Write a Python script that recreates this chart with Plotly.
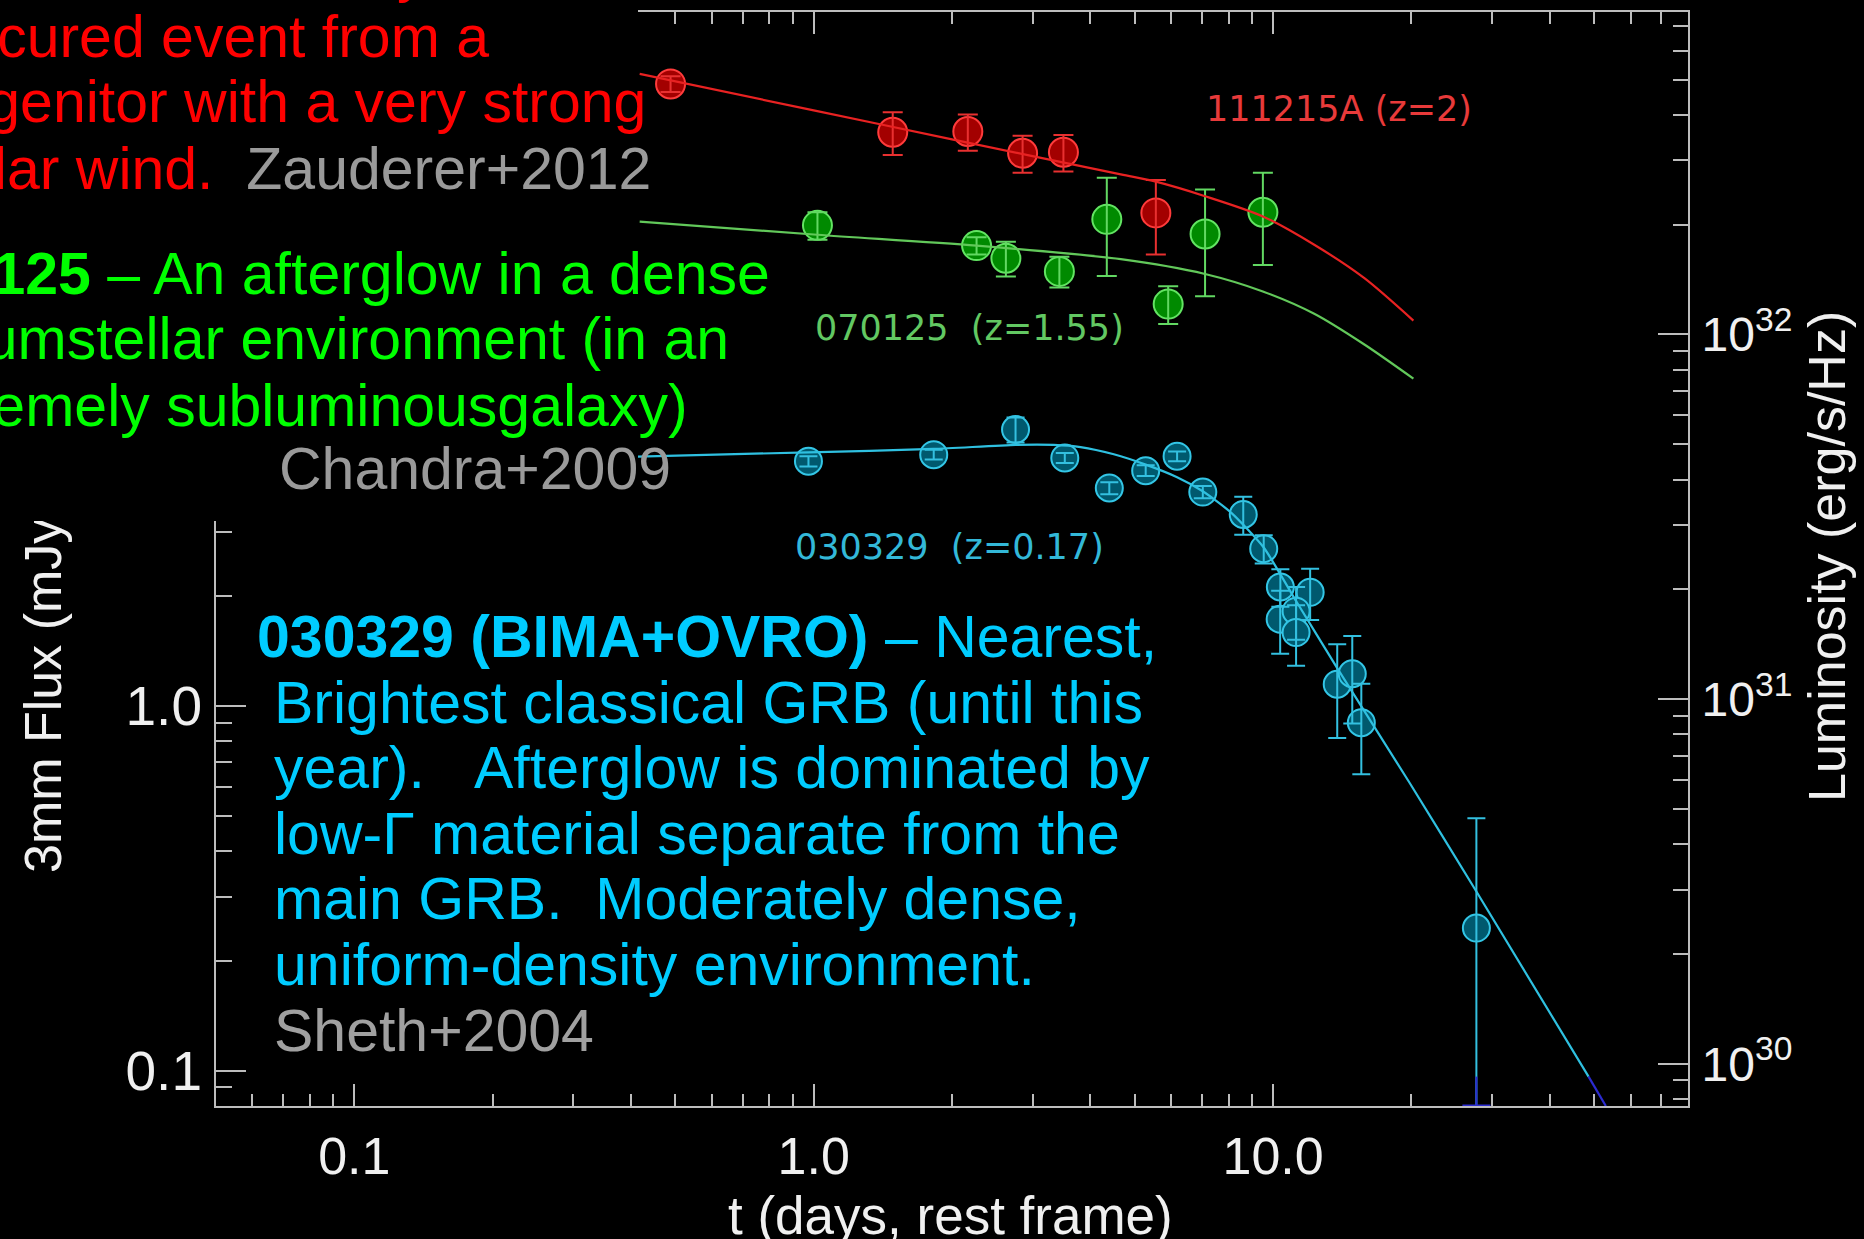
import math
import plotly.graph_objects as go

# ------------------------------------------------------------------ data
# GRB 111215A (z=2)  -- rest-frame days, 3mm flux (mJy)
red_t = [0.488, 1.486, 2.165, 2.849, 3.496, 5.556]
red_flux = [50.8, 37.45, 37.6, 32.8, 33.0, 22.5]
red_err = [2.5, 5.0, 4.3, 3.8, 3.8, 5.2]
red_fit_t = [0.418, 1.0, 2.0, 4.66, 5.556, 7.11, 9.5, 12.29, 15.8, 20.2]
red_fit_flux = [54.1, 43.0, 35.8, 28.7, 27.4, 25.0, 22.0, 18.4, 14.9, 11.4]

# GRB 070125 (z=1.55)
green_t = [1.019, 2.262, 2.62, 3.426, 4.345, 5.91, 7.11, 9.5]
green_flux = [20.8, 18.3, 16.9, 15.55, 21.6, 12.65, 19.7, 22.6]
green_err = [1.8, 1.0, 1.85, 1.5, 6.5, 1.5, 6.4, 6.4]
green_fit_t = [0.418, 1.018, 2.262, 4.66, 7.11, 9.5, 12.29, 15.8, 20.2]
green_fit_flux = [21.3, 19.6, 18.3, 16.8, 15.3, 13.7, 11.9, 9.8, 7.9]

# GRB 030329 (z=0.17)
cyan_t = [0.974, 1.825, 2.75, 3.52, 4.40, 5.28, 6.18, 7.03, 8.61, 9.54,
          10.37, 12.04, 10.36, 11.22, 11.22, 13.79, 14.87, 15.56, 27.7]
cyan_flux = [4.69, 4.89, 5.73, 4.79, 3.96, 4.42, 4.84, 3.86, 3.35, 2.70,
             2.12, 2.05, 1.73, 1.82, 1.59, 1.147, 1.226, 0.90, 0.246]
cyan_err = [0.15, 0.15, 0.45, 0.15, 0.15, 0.15, 0.15, 0.15, 0.40, 0.24,
            0.25, 0.33, 0.34, 0.30, 0.30, 0.33, 0.33, 0.25, 0.246]
cyan_fit_t = [0.414, 0.973, 1.823, 2.75, 3.33, 3.81, 4.5, 5.28, 6.18, 7.03, 8.1,
              9.54, 11.22, 13.79, 19.83, 27.7, 48.6]
cyan_fit_flux = [4.83, 4.96, 5.07, 5.2, 5.2, 5.13, 4.9, 4.59, 4.24, 3.88, 3.39,
                 2.72, 1.94, 1.27, 0.615, 0.31, 0.0963]
cyan_fit_faint_t = [48.6, 53.0]
cyan_fit_faint_flux = [0.0963, 0.080]
FAINT_LIMIT = 0.0963

# axes
t_range = [0.05, 80]
flux_range = [0.08, 80]
LUM_OFFSET_DEX = 30.981          # log10(erg/s/Hz per mJy) of the twin axis
x_major = [0.1, 1.0, 10.0]
x_major_text = ["0.1", "1.0", "10.0"]
y_major = [0.1, 1.0, 10.0]
y_major_text = ["0.1", "1.0", "10.0"]
lum_major = [1e30, 1e31, 1e32]
lum_major_text = ["10<sup>30</sup>", "10<sup>31</sup>", "10<sup>32</sup>"]


def minors(lo, hi):
    out = []
    for e in range(int(math.floor(math.log10(lo))) - 1, int(math.ceil(math.log10(hi))) + 1):
        for m in range(2, 10):
            v = float(m) * 10.0 ** e
            if lo < v < hi:
                out.append(v)
    return out


lum_lo = 10.0 ** (math.log10(flux_range[0]) + LUM_OFFSET_DEX)
lum_hi = 10.0 ** (math.log10(flux_range[1]) + LUM_OFFSET_DEX)

# ------------------------------------------------------------------ layout geometry
W, H = 1864, 1239
ML, MR, MT, MB = 216, 176, 12, 133
PW, PH = W - ML - MR, H - MT - MB


def px(x):
    return (x - ML) / PW


def py(y):
    return (H - MB - y) / PH


AX = "#bdbdbd"
LBL = "#f0f0f0"
SANS = "Liberation Sans, Arial, Helvetica, sans-serif"

fig = go.Figure()


def add_series(t, f, err, fill, edge, ecol, size, cap):
    fig.add_trace(go.Scatter(
        x=t, y=f, mode="markers",
        marker=dict(symbol="circle", size=size, color=fill,
                    line=dict(color=edge, width=2)),
        showlegend=False, hoverinfo="skip"))
    fig.add_trace(go.Scatter(
        x=t, y=f, mode="markers",
        marker=dict(size=2, opacity=0),
        error_y=dict(type="data", array=err, visible=True, color=ecol,
                     thickness=2, width=cap),
        showlegend=False, hoverinfo="skip"))


add_series(red_t, red_flux, red_err, "#a30000", "#ff3b3b", "#e83030", 29, 10)
add_series(green_t, green_flux, green_err, "#008a00", "#62e462", "#62d862", 29, 10)
add_series(cyan_t, cyan_flux, cyan_err, "#00596e", "#33c6e6", "#33c0e0", 27, 9)

# faint (below limit) portion of the last 030329 error bar
fig.add_trace(go.Scatter(
    x=[cyan_t[-1], cyan_t[-1]], y=[FAINT_LIMIT, flux_range[0]],
    mode="lines", line=dict(color="#2b2bd0", width=2),
    showlegend=False, hoverinfo="skip"))
fig.add_trace(go.Scatter(
    x=[cyan_t[-1]], y=[flux_range[0]], mode="markers", cliponaxis=False,
    marker=dict(symbol="line-ew", size=20, line=dict(color="#2b2bd0", width=3)),
    showlegend=False, hoverinfo="skip"))

# model curves
fig.add_trace(go.Scatter(x=red_fit_t, y=red_fit_flux, mode="lines",
                         line=dict(color="#e82222", width=2.2, shape="spline", smoothing=0.8),
                         showlegend=False, hoverinfo="skip"))
fig.add_trace(go.Scatter(x=green_fit_t, y=green_fit_flux, mode="lines",
                         line=dict(color="#62c85a", width=2.2, shape="spline", smoothing=0.8),
                         showlegend=False, hoverinfo="skip"))
fig.add_trace(go.Scatter(x=cyan_fit_t, y=cyan_fit_flux, mode="lines",
                         line=dict(color="#2fc0e0", width=2.2, shape="spline", smoothing=0.6),
                         showlegend=False, hoverinfo="skip"))
fig.add_trace(go.Scatter(x=cyan_fit_faint_t, y=cyan_fit_faint_flux, mode="lines",
                         line=dict(color="#2b2bd0", width=2.2),
                         showlegend=False, hoverinfo="skip"))
# twin luminosity axis anchor trace
fig.add_trace(go.Scatter(x=[t_range[0]], y=[lum_lo], yaxis="y2", mode="markers",
                         marker=dict(opacity=0), showlegend=False, hoverinfo="skip"))

# ------------------------------------------------------------------ annotations
anns = []
BIG = 59


def text(t, x, y, xanchor="left", size=BIG, color="#ffffff", family=SANS, angle=0):
    anns.append(dict(text=t, x=px(x), y=py(y), xref="paper", yref="paper",
                     xanchor=xanchor, yanchor="middle", showarrow=False,
                     textangle=angle, font=dict(size=size, color=color, family=family),
                     borderpad=0))


# left axis title (partly hidden by the text panel)
text("3mm Flux (mJy)", 43, 687, xanchor="center", size=52, color=LBL, angle=-90)

# black text panel covering upper-left part of the frame
anns.append(dict(text=" ", x=px(-10), y=py(-10), xref="paper", yref="paper",
                 xanchor="left", yanchor="top", showarrow=False,
                 width=648, height=531, bgcolor="#000000", borderpad=0, borderwidth=0))

RED, GREEN, CYAN, GREY = "#ff0000", "#00ff00", "#00ccff", "#9a9a9a"
NB = "\u00a0"
R_SHIFT = 3
text("<b>111215A</b> – A heavily", 425 + R_SHIFT, -29, xanchor="right", color=RED)
text("obscured event from a", 487 + R_SHIFT, 37, xanchor="right", color=RED)
text("progenitor with a very strong", 644 + R_SHIFT, 102, xanchor="right", color=RED)
text("stellar wind." + NB + NB + f"<span style='color:{GREY}'>Zauderer+2012</span>",
     649 + R_SHIFT, 169, xanchor="right", color=RED)
text("<b>070125</b> – An afterglow in a dense", 768 + R_SHIFT, 274, xanchor="right", color=GREEN)
text("circumstellar environment (in an", 727 + R_SHIFT, 339, xanchor="right", color=GREEN)
text("extremely subluminousgalaxy)", 686 + R_SHIFT, 406, xanchor="right", color=GREEN)
text("Chandra+2009", 669 + R_SHIFT, 469, xanchor="right", color=GREY)

cy0, dy = 637, 65.6
L0, L1 = 256, 273
text("<b>030329 (BIMA+OVRO)</b> – Nearest,", L0, cy0, color=CYAN)
text("Brightest classical GRB (until this", L1, cy0 + dy, color=CYAN)
text("year)." + NB + NB + NB + "Afterglow is dominated by", L1, cy0 + 2 * dy, color=CYAN)
text("low-Γ material separate from the", L1, cy0 + 3 * dy, color=CYAN)
text("main GRB." + NB + NB + "Moderately dense,", L1, cy0 + 4 * dy, color=CYAN)
text("uniform-density environment.", L1, cy0 + 5 * dy, color=CYAN)
text("Sheth+2004", L1, cy0 + 6 * dy, color="#a0a0a0")

LAB = "DejaVu Sans, sans-serif"
text("111215A (z=2)", 1205, 109, size=35, color="#e83a3a", family=LAB)
text("070125" + NB + NB + "(z=1.55)", 814, 328, size=35, color="#62c862", family=LAB)
text("030329" + NB + NB + "(z=0.17)", 794, 547, size=35, color="#33b8d8", family=LAB)

text("t (days, rest frame)", 950, 1215, xanchor="center", size=53, color=LBL)
text("Luminosity (erg/s/Hz)", 1827, 557, xanchor="center", size=52, color=LBL, angle=-90)

# ------------------------------------------------------------------ axes
common = dict(type="log", showgrid=False, zeroline=False, showline=True,
              linecolor=AX, linewidth=2, ticks="inside", tickcolor=AX, tickwidth=2)

fig.update_layout(
    width=W, height=H, autosize=False,
    margin=dict(l=ML, r=MR, t=MT, b=MB, pad=0, autoexpand=False),
    paper_bgcolor="#000000", plot_bgcolor="#000000",
    hovermode=False, showlegend=False,
    xaxis=dict(**common, range=[math.log10(t_range[0]), math.log10(t_range[1])],
               mirror="ticks", ticklen=22, tickvals=x_major, ticktext=x_major_text,
               ticklabelstandoff=4,
               tickfont=dict(size=52, color=LBL, family=SANS),
               minor=dict(tickvals=minors(*t_range), ticklen=12, ticks="inside",
                          tickcolor=AX, tickwidth=2, showgrid=False)),
    yaxis=dict(**common, range=[math.log10(flux_range[0]), math.log10(flux_range[1])],
               ticklen=30, tickvals=y_major, ticktext=y_major_text,
               ticklabelstandoff=1,
               tickfont=dict(size=55, color=LBL, family=SANS),
               minor=dict(tickvals=minors(*flux_range), ticklen=16, ticks="inside",
                          tickcolor=AX, tickwidth=2, showgrid=False)),
    yaxis2=dict(**common, overlaying="y", side="right",
                range=[math.log10(lum_lo), math.log10(lum_hi)],
                ticklen=30, tickvals=lum_major, ticktext=lum_major_text,
                ticklabelstandoff=2,
                tickfont=dict(size=48, color=LBL, family=SANS),
                minor=dict(tickvals=minors(lum_lo, lum_hi), ticklen=15, ticks="inside",
                           tickcolor=AX, tickwidth=2, showgrid=False)),
    annotations=anns,
)

fig.write_html("out.html")
